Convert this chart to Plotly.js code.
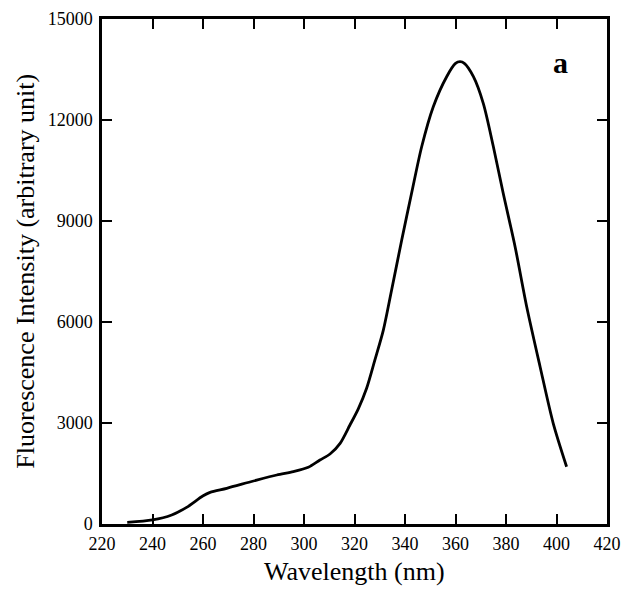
<!DOCTYPE html>
<html>
<head>
<meta charset="utf-8">
<script src="https://cdn.plot.ly/plotly-3.0.1.min.js"></script>
<style>html,body{margin:0;padding:0;background:#fff;}#chart{width:621px;height:591px;}</style>
</head>
<body>
<div id="chart"></div>
<script>
const wavelength = [230, 240, 247.6, 253.5, 259.9, 262.8, 269.4, 280, 289.2, 295.8, 301.7, 306.3, 310.3, 314.3, 318.2, 321.5, 324.8, 328, 331.4, 334.7, 338.7, 342.6, 346.6, 351.2, 356.5, 360, 361.8, 363.5, 367.1, 371, 375, 378.9, 383.6, 388.2, 393.5, 398.7, 404];
const intensity = [50, 120, 267, 495, 832, 940, 1060, 1277, 1455, 1554, 1683, 1900, 2079, 2396, 2940, 3420, 4030, 4850, 5750, 6950, 8435, 9822, 11206, 12395, 13286, 13680, 13731, 13680, 13286, 12495, 11206, 9822, 8236, 6454, 4672, 2991, 1702];
const xTicks = [220, 240, 260, 280, 300, 320, 340, 360, 380, 400, 420];
const yTicks = [0, 3000, 6000, 9000, 12000, 15000];
const xTitle = "Wavelength (nm)";
const yTitle = "Fluorescence Intensity (arbitrary unit)";
const panelLabel = "a";

const font = "Liberation Serif, Times New Roman, serif";
const trace = {
  x: wavelength, y: intensity, type: "scatter", mode: "lines",
  line: {color: "#000", width: 2.8, shape: "spline", smoothing: 0.8},
  hoverinfo: "skip"
};
const axisCommon = {
  showgrid: false, zeroline: false, showline: true, linecolor: "#000", linewidth: 2.6,
  mirror: "ticks", ticks: "inside", ticklen: 10, tickwidth: 2, tickcolor: "#000",
  tickfont: {family: font, size: 18, color: "#000"}
};
const layout = {
  width: 621, height: 591,
  margin: {l: 102, r: 14, t: 19, b: 67},
  paper_bgcolor: "#fff", plot_bgcolor: "#fff",
  showlegend: false,
  xaxis: Object.assign({}, axisCommon, {range: [220, 420], tickvals: xTicks, ticktext: xTicks.map(String), ticklabelstandoff: 2}),
  yaxis: Object.assign({}, axisCommon, {range: [0, 15000], tickvals: yTicks, ticktext: yTicks.map(String), ticklabelstandoff: 3}),
  annotations: [
    {text: panelLabel, xref: "paper", yref: "paper", x: 0.908, y: 0.913, showarrow: false,
     font: {family: font, size: 30, color: "#000", weight: "bold"}, xanchor: "center", yanchor: "middle"},
    {text: xTitle, xref: "paper", yref: "paper", x: 0.5, y: -0.095, showarrow: false,
     font: {family: font, size: 26, color: "#000"}, xanchor: "center", yanchor: "middle"},
    {text: yTitle, xref: "paper", yref: "paper", x: -0.152, y: 0.5, showarrow: false, textangle: -90,
     font: {family: font, size: 26, color: "#000"}, xanchor: "center", yanchor: "middle"}
  ]
};
Plotly.newPlot("chart", [trace], layout, {staticPlot: true, displayModeBar: false});
</script>
</body>
</html>
